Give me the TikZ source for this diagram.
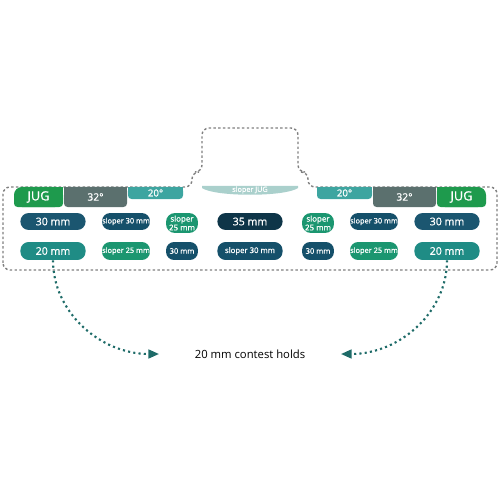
\documentclass[tikz,border=0pt]{standalone}
\usepackage{fontspec}
\setmainfont{Open Sans}
\newfontface\holdface{Open Sans}[FakeBold=0.8]
\usetikzlibrary{arrows.meta}
\definecolor{jugGreen}{HTML}{1E9A4D}
\definecolor{tabGray}{HTML}{5B706E}
\definecolor{tabTeal}{HTML}{3DA5A0}
\definecolor{slJugTeal}{HTML}{AAD0CC}
\definecolor{holdBlue}{HTML}{1B5670}
\definecolor{holdTeal}{HTML}{1F8C85}
\definecolor{holdNavy}{HTML}{15506A}
\definecolor{holdGreen}{HTML}{1B9670}
\definecolor{holdDark}{HTML}{0E3548}
\definecolor{arrowTeal}{HTML}{1E6B68}
\definecolor{dashGray}{HTML}{808080}

\begin{document}
\begin{tikzpicture}[x=0.567pt,y=-0.567pt,
  tabtext/.style={text=white,execute at begin node=\holdface},
  hold/.style={tabtext,inner sep=0pt,align=center,rounded corners=4.6pt,minimum height=9.6pt},
  wide/.style={minimum width=36.9pt},
  mid/.style={minimum width=27.2pt,font=\fontsize{4.2}{5}\selectfont},
  small/.style={minimum width=18.1pt,font=\fontsize{4.3}{5}\selectfont},
  outline/.style={draw=dashGray,line width=0.8pt,dash pattern=on 1.4pt off 1.3pt,rounded corners=4pt},
  guide/.style={draw=arrowTeal,line width=1.2pt,dash pattern=on 1.2pt off 1.8pt,-{Triangle[length=6pt,width=5pt,fill=arrowTeal]}}]
  \useasboundingbox (0,0) rectangle (500,500);
  % wall outline
  \draw[outline] (3,270) -- (3,187) -- (192,187) -- (192,172) -- (202,172) -- (202,128)
    -- (298,128) -- (298,172) -- (308,172) -- (308,187) -- (497,187) -- (497,270) -- cycle;
  % volumes, left
  \fill[jugGreen,rounded corners=4.5pt] (14,187) rectangle (63,207);
  \fill[jugGreen,rounded corners=2pt] (14,195) rectangle (63,207);
  \fill[jugGreen] (40,187) rectangle (63,198);
  \fill[tabGray,rounded corners=2pt] (64,187) rectangle (127,207);
  \fill[tabGray] (64,187) rectangle (127,197);
  \fill[tabTeal,rounded corners=2pt] (128,187) rectangle (183,199);
  \fill[tabTeal] (128,187) rectangle (183,193);
  % volumes, right
  \fill[tabTeal,rounded corners=2pt] (317,187) rectangle (372,199);
  \fill[tabTeal] (317,187) rectangle (372,193);
  \fill[tabGray,rounded corners=2pt] (373,187) rectangle (436,207);
  \fill[tabGray] (373,187) rectangle (436,197);
  \fill[jugGreen,rounded corners=4.5pt] (437,187) rectangle (486,207);
  \fill[jugGreen,rounded corners=2pt] (437,195) rectangle (486,207);
  \fill[jugGreen] (437,187) rectangle (460,198);
  % sloper jug
  \fill[slJugTeal] (202,186) -- (298,186) -- (298,188) .. controls (285,197) and (215,197) .. (202,188) -- cycle;
  \node[tabtext,font=\fontsize{7.2}{8}\selectfont] (jugL) at (38.5,197) {JUG};
  \node[tabtext,font=\fontsize{5.8}{7}\selectfont] (deg32L) at (95.5,197) {32°};
  \node[tabtext,font=\fontsize{5.5}{7}\selectfont] (deg20L) at (155.5,193) {20°};
  \node[tabtext,font=\fontsize{4.1}{5}\selectfont] (slJug) at (250,190) {sloper JUG};
  \node[tabtext,font=\fontsize{5.5}{7}\selectfont] (deg20R) at (344.5,193) {20°};
  \node[tabtext,font=\fontsize{5.8}{7}\selectfont] (deg32R) at (404.5,197) {32°};
  \node[tabtext,font=\fontsize{7.2}{8}\selectfont] (jugR) at (461.5,197) {JUG};
  % holds, first row
  \node[hold,wide,fill=holdBlue,font=\fontsize{6}{7}\selectfont] (l30) at (53,221.5) {30 mm};
  \node[hold,mid,fill=holdNavy] (lsl30) at (126,221.5) {sloper 30 mm};
  \node[hold,small,fill=holdGreen,minimum height=11.3pt,rounded corners=5pt,font=\fontsize{4.5}{5}\selectfont] (lsl25) at (182,223) {sloper\\25 mm};
  \node[hold,wide,fill=holdDark,font=\fontsize{6}{7}\selectfont] (c35) at (250,221.5) {35 mm};
  \node[hold,small,fill=holdGreen,minimum height=11.3pt,rounded corners=5pt,font=\fontsize{4.5}{5}\selectfont] (rsl25) at (318,223) {sloper\\25 mm};
  \node[hold,mid,fill=holdNavy] (rsl30) at (374,221.5) {sloper 30 mm};
  \node[hold,wide,fill=holdBlue,font=\fontsize{6}{7}\selectfont] (r30) at (447,221.5) {30 mm};
  % holds, second row
  \node[hold,wide,fill=holdTeal,minimum height=10.2pt,font=\fontsize{6}{7}\selectfont] (l20) at (53,251) {20 mm};
  \node[hold,mid,fill=holdGreen,minimum height=10.2pt] (lsl25b) at (126,251) {sloper 25 mm};
  \node[hold,small,fill=holdNavy,minimum height=10.2pt] (l30s) at (182,251) {30 mm};
  \node[hold,wide,fill=holdNavy,minimum height=10.2pt,font=\fontsize{4.4}{5}\selectfont] (csl30) at (250,251) {sloper 30 mm};
  \node[hold,small,fill=holdNavy,minimum height=10.2pt] (r30s) at (318,251) {30 mm};
  \node[hold,mid,fill=holdGreen,minimum height=10.2pt] (rsl25b) at (374,251) {sloper 25 mm};
  \node[hold,wide,fill=holdTeal,minimum height=10.2pt,font=\fontsize{6}{7}\selectfont] (r20) at (447,251) {20 mm};
  % contest holds
  \node[font=\fontsize{6.4}{8}\selectfont] (contest) at (250,354) {20 mm contest holds};
  \coordinate (endL) at (159,354);
  \coordinate (endR) at (341,354);
  \draw[guide] (l20.south) .. controls (53,312) and (100,354) .. (endL);
  \draw[guide] (r20.south) .. controls (447,312) and (400,354) .. (endR);
\end{tikzpicture}
\end{document}
